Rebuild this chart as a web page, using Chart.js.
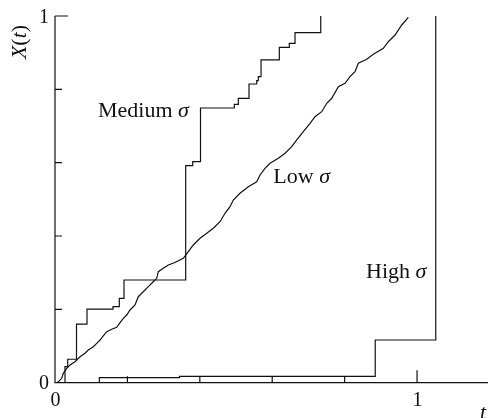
<!DOCTYPE html>
<html><head><meta charset="utf-8">
<script src="https://cdn.jsdelivr.net/npm/chart.js@4.4.1/dist/chart.umd.min.js"></script>
<style>html,body{margin:0;padding:0;background:#fff}canvas{display:block}</style>
</head><body>
<canvas id="c" width="488" height="418"></canvas>
<script>
// ---- data ----
const mediumT = [0, 0.0276, 0.0351, 0.0594, 0.0884, 0.1602, 0.1776, 0.1906, 0.3610, 0.3804, 0.4019, 0.4953, 0.5063, 0.5359, 0.5572, 0.5616, 0.5691, 0.6196, 0.6472, 0.6630, 0.7340];
const mediumX = [0, 0.044, 0.064, 0.160, 0.2007, 0.2072, 0.2300, 0.2800, 0.5918, 0.6027, 0.7491, 0.7591, 0.7755, 0.8146, 0.8237, 0.8346, 0.8801, 0.9146, 0.9255, 0.9546, 1.0];

const lowT = [0, 0.0075, 0.0185, 0.0229, 0.0323, 0.0414, 0.0552, 0.0691, 0.0829, 0.0920, 0.1058, 0.1152, 0.1243, 0.1334, 0.1428, 0.1566, 0.1704, 0.1796, 0.1887, 0.1981, 0.2072, 0.2210, 0.2301, 0.2395, 0.2486, 0.2577, 0.2715, 0.2809, 0.2854, 0.2992, 0.3130, 0.3296, 0.3544, 0.3682, 0.3820, 0.4006, 0.4191, 0.4373, 0.4558, 0.4696, 0.4834, 0.4925, 0.5110, 0.5340, 0.5572, 0.5663, 0.5801, 0.5939, 0.6169, 0.6354, 0.6539, 0.6677, 0.6859, 0.7044, 0.7182, 0.7367, 0.7506, 0.7644, 0.7826, 0.8011, 0.8149, 0.8287, 0.8378, 0.8610, 0.8793, 0.9069, 0.9207, 0.9392, 0.9577, 0.9760];
const lowX = [0, 0.0005, 0.0120, 0.0256, 0.0393, 0.0483, 0.0573, 0.0709, 0.0802, 0.0892, 0.0982, 0.1074, 0.1164, 0.1274, 0.1391, 0.1456, 0.1511, 0.1636, 0.1756, 0.1846, 0.1983, 0.2119, 0.2345, 0.2438, 0.2528, 0.2618, 0.2754, 0.2847, 0.3027, 0.3120, 0.3210, 0.3272, 0.3392, 0.3572, 0.3755, 0.3938, 0.4074, 0.4211, 0.4391, 0.4620, 0.4800, 0.4982, 0.5165, 0.5345, 0.5481, 0.5664, 0.5847, 0.5983, 0.6119, 0.6256, 0.6436, 0.6619, 0.6845, 0.7074, 0.7254, 0.7390, 0.7619, 0.7756, 0.8072, 0.8165, 0.8345, 0.8481, 0.8710, 0.8819, 0.8956, 0.9119, 0.9299, 0.9482, 0.9755, 0.9965];

const highT = [0, 0.1224, 0.3439, 0.8845, 1.0517];
const highX = [0, 0.0136, 0.0173, 0.1164, 1.0];

const xTickValues = [0.2, 0.4, 0.6, 0.8, 1.0];
const yTickValues = [0.2, 0.4, 0.6, 0.8, 1.0];
const xTickLabels = ['0', '1'];
const xTickLabelValues = [0, 1];
const yTickLabels = ['0', '1'];
const yTickLabelValues = [0, 1];

const curveNames = ['Medium', 'Low', 'High'];
const curveLabelT = [0.1188, 0.603, 0.859];
const curveLabelX = [0.7254, 0.5438, 0.2847];

function pts(t, x) { return t.map((v, i) => ({x: v, y: x[i]})); }

const INK = '#111';
const SERIF = '"Liberation Serif", "DejaVu Serif", serif';

const decor = {
  id: 'decor',
  afterDraw(chart) {
    const ctx = chart.ctx;
    const xs = chart.scales.x, ys = chart.scales.y;
    const x0 = xs.getPixelForValue(0), y0 = ys.getPixelForValue(0);
    ctx.save();
    ctx.strokeStyle = INK;
    ctx.lineWidth = 1.2;
    // axes
    ctx.beginPath();
    ctx.moveTo(x0, ys.getPixelForValue(1));
    ctx.lineTo(x0, y0);
    ctx.lineTo(chart.width, y0);
    ctx.stroke();
    // inward ticks
    ctx.beginPath();
    xTickValues.forEach(v => {
      const px = xs.getPixelForValue(v);
      const len = v === 1 ? 12.5 : 6.5;
      ctx.moveTo(px, y0); ctx.lineTo(px, y0 - len);
    });
    yTickValues.forEach(v => {
      const py = ys.getPixelForValue(v);
      const len = v === 1 ? 13 : 7;
      ctx.moveTo(x0, py); ctx.lineTo(x0 + len, py);
    });
    ctx.stroke();
    // tick labels
    ctx.fillStyle = INK;
    ctx.font = '20px ' + SERIF;
    ctx.textAlign = 'right'; ctx.textBaseline = 'middle';
    yTickLabels.forEach((s, i) => {
      ctx.fillText(s, x0 - 6, ys.getPixelForValue(yTickLabelValues[i]) + 1.5);
    });
    ctx.textAlign = 'center'; ctx.textBaseline = 'top';
    xTickLabels.forEach((s, i) => {
      ctx.fillText(s, xs.getPixelForValue(xTickLabelValues[i]) + 0.5, y0 + 8);
    });
    // axis titles
    ctx.font = 'italic 22px ' + SERIF;
    ctx.textAlign = 'left'; ctx.textBaseline = 'alphabetic';
    ctx.fillText('t', 480, y0 + 36);

    ctx.save();
    ctx.translate(26, 42);
    ctx.rotate(-Math.PI / 2);
    const parts = [['X', true], ['(', false], ['t', true], [')', false]];
    let total = 0;
    const widths = parts.map(([s, it]) => {
      ctx.font = (it ? 'italic ' : '') + '22px ' + SERIF;
      const w = ctx.measureText(s).width; total += w; return w;
    });
    let cx = -total / 2;
    ctx.textAlign = 'left';
    parts.forEach(([s, it], i) => {
      ctx.font = (it ? 'italic ' : '') + '22px ' + SERIF;
      ctx.fillText(s, cx, 0); cx += widths[i];
    });
    ctx.restore();

    // curve labels
    curveNames.forEach((name, i) => {
      const px = xs.getPixelForValue(curveLabelT[i]);
      const py = ys.getPixelForValue(curveLabelX[i]);
      ctx.font = '22px ' + SERIF;
      ctx.textAlign = 'left'; ctx.textBaseline = 'alphabetic';
      const s = name + ' ';
      ctx.fillText(s, px, py);
      const w = ctx.measureText(s).width;
      ctx.font = 'italic 22px ' + SERIF;
      ctx.fillText('\u03c3', px + w, py);
    });
    ctx.restore();
  }
};

const ds = (t, x) => ({
  data: pts(t, x), showLine: true, pointRadius: 0, borderColor: INK,
  borderWidth: 1.2, fill: false, tension: 0
});

new Chart(document.getElementById('c'), {
  type: 'scatter',
  data: {
    datasets: [
      Object.assign(ds(mediumT, mediumX), {stepped: true}),
      ds(lowT, lowX),
      Object.assign(ds(highT, highX), {stepped: true})
    ]
  },
  options: {
    responsive: false,
    animation: false,
    devicePixelRatio: 1,
    layout: {padding: {left: 55, right: 0, top: 16, bottom: 35.3}},
    plugins: {legend: {display: false}, tooltip: {enabled: false}},
    scales: {
      x: {type: 'linear', min: 0, max: 1.196, display: false},
      y: {type: 'linear', min: 0, max: 1, display: false}
    }
  },
  plugins: [decor]
});
</script>
</body></html>
